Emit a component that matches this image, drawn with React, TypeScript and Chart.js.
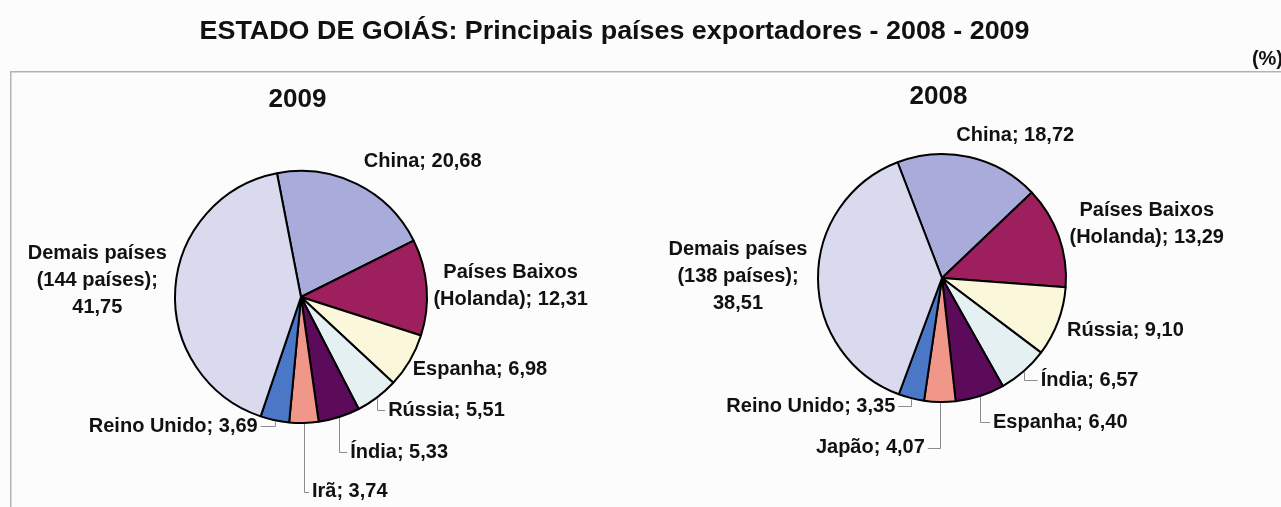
import React, { useEffect, useRef } from "react";
import { Chart, registerables } from "chart.js";

Chart.register(...registerables);

const W = 1281;
const H = 507;

const TITLE = "ESTADO DE GOIÁS: Principais países exportadores - 2008 - 2009";
const UNIT = "(%)";
const YEAR_LEFT = "2009";
const YEAR_RIGHT = "2008";

const countries2009 = [
  "China",
  "Países Baixos\n(Holanda)",
  "Espanha",
  "Rússia",
  "Índia",
  "Irã",
  "Reino Unido",
  "Demais países\n(144 países)",
];
const values2009 = [20.68, 12.31, 6.98, 5.51, 5.33, 3.74, 3.69, 41.75];

const countries2008 = [
  "China",
  "Países Baixos\n(Holanda)",
  "Rússia",
  "Índia",
  "Espanha",
  "Japão",
  "Reino Unido",
  "Demais países\n(138 países)",
];
const values2008 = [18.72, 13.29, 9.1, 6.57, 6.4, 4.07, 3.35, 38.51];

const sliceColors = [
  "#A9ACDB",
  "#9D1F5E",
  "#FAF7DA",
  "#E5F0F3",
  "#5C0B5A",
  "#F0978A",
  "#4A77C6",
  "#DADAEE",
];

type Align = "left" | "right" | "center";
type LabelSpec = { dx: number; dy: number; align: Align; leader?: boolean; valueBreak?: boolean };

// label placement relative to the slice's outer-edge mid point
const labels2009: LabelSpec[] = [
  { dx: 66, dy: -22, align: "center" },
  { dx: 84, dy: -1, align: "center" },
  { dx: 3, dy: 9, align: "left" },
  { dx: 11, dy: 13, align: "left", leader: true },
  { dx: 11, dy: 35, align: "left", leader: true },
  { dx: 8, dy: 69, align: "left", leader: true },
  { dx: -17, dy: 6, align: "right", leader: true },
  { dx: -78, dy: -8, align: "center", valueBreak: true },
];
const labels2008: LabelSpec[] = [
  { dx: 46, dy: -22, align: "center" },
  { dx: 88, dy: -12, align: "center" },
  { dx: 9, dy: 9, align: "left" },
  { dx: 17, dy: 9, align: "left", leader: true },
  { dx: 13, dy: 26, align: "left", leader: true },
  { dx: -15, dy: 46, align: "right", leader: true },
  { dx: -16, dy: 8, align: "right", leader: true },
  { dx: -80, dy: -2, align: "center", valueBreak: true },
];

const FONT = '"Liberation Sans", Arial, Helvetica, sans-serif';
const fmt = (v: number) => v.toFixed(2).replace(".", ",");

function labelLines(name: string, value: number, spec: LabelSpec): string[] {
  const lines = name.split("\n");
  const last = lines.length - 1;
  if (spec.valueBreak) {
    lines[last] = lines[last] + ";";
    lines.push(fmt(value));
  } else {
    lines[last] = lines[last] + "; " + fmt(value);
  }
  return lines;
}

function makeLabelPlugin(names: string[], values: number[], specs: LabelSpec[]) {
  return {
    id: "pieLabels",
    afterDatasetsDraw(chart: any) {
      const ctx: CanvasRenderingContext2D = chart.ctx;
      const meta = chart.getDatasetMeta(0);
      ctx.save();
      meta.data.forEach((arc: any, i: number) => {
        const p = arc.getProps(["x", "y", "startAngle", "endAngle", "outerRadius"], true);
        const mid = (p.startAngle + p.endAngle) / 2;
        const ex = p.x + p.outerRadius * Math.cos(mid);
        const ey = p.y + p.outerRadius * Math.sin(mid);
        const spec = specs[i];
        const ax = ex + spec.dx;
        const ay = ey + spec.dy;
        if (spec.leader) {
          const endX = spec.align === "right" ? ax + 3 : ax - 3;
          ctx.strokeStyle = "#8c8c8c";
          ctx.lineWidth = 1;
          ctx.beginPath();
          ctx.moveTo(Math.round(ex) + 0.5, ey + 1);
          ctx.lineTo(Math.round(ex) + 0.5, Math.round(ay) + 0.5);
          ctx.lineTo(endX, Math.round(ay) + 0.5);
          ctx.stroke();
        }
        const lines = labelLines(names[i], values[i], spec);
        ctx.font = `bold 20px ${FONT}`;
        ctx.fillStyle = "#111111";
        ctx.textAlign = spec.align;
        ctx.textBaseline = "middle";
        const lh = 27;
        const top = ay - ((lines.length - 1) * lh) / 2;
        lines.forEach((t, k) => ctx.fillText(t, ax, top + k * lh));
      });
      ctx.restore();
    },
  };
}

const decorPlugin = {
  id: "decor",
  beforeDraw(chart: any) {
    const ctx: CanvasRenderingContext2D = chart.ctx;
    ctx.save();
    // frame
    ctx.strokeStyle = "#b3b3b3";
    ctx.lineWidth = 1.5;
    ctx.beginPath();
    ctx.moveTo(W, 71.75);
    ctx.lineTo(10.75, 71.75);
    ctx.lineTo(10.75, H);
    ctx.stroke();
    // title (slightly wide face)
    ctx.fillStyle = "#111111";
    ctx.textBaseline = "alphabetic";
    ctx.textAlign = "center";
    ctx.font = `bold 25px ${FONT}`;
    ctx.save();
    ctx.translate(614.5, 38.5);
    ctx.scale(1.075, 1);
    ctx.fillText(TITLE, 0, 0);
    ctx.restore();
    // unit
    ctx.textAlign = "right";
    ctx.font = `bold 20px ${FONT}`;
    ctx.fillText(UNIT, W + 2, 65);
    // sub titles
    ctx.textAlign = "center";
    ctx.font = `bold 26px ${FONT}`;
    ctx.fillText(YEAR_LEFT, 297.5, 106.5);
    ctx.fillText(YEAR_RIGHT, 938.5, 104);
    ctx.restore();
  },
};

function makePie(
  canvas: HTMLCanvasElement,
  names: string[],
  values: number[],
  specs: LabelSpec[],
  cx: number,
  cy: number,
  r: number,
  rotation: number,
  extra: any[]
) {
  // position pie centre through the chart area
  const left = Math.max(0, 2 * cx - W);
  const right = Math.max(0, W - 2 * cx);
  const top = Math.max(0, 2 * cy - H);
  const bottom = Math.max(0, H - 2 * cy);
  return new Chart(canvas, {
    type: "pie",
    data: {
      labels: names,
      datasets: [
        {
          data: values,
          backgroundColor: sliceColors,
          borderColor: "#000000",
          borderWidth: 2,
          radius: r,
          rotation,
        } as any,
      ],
    },
    options: {
      responsive: false,
      animation: false,
      events: [],
      rotation,
      radius: r,
      layout: { padding: { left, right, top, bottom } },
      plugins: {
        legend: { display: false },
        tooltip: { enabled: false },
        title: { display: false },
      },
    } as any,
    plugins: [...extra, makeLabelPlugin(names, values, specs)],
  });
}

export default function App() {
  const leftRef = useRef<HTMLCanvasElement | null>(null);
  const rightRef = useRef<HTMLCanvasElement | null>(null);

  useEffect(() => {
    const a = makePie(leftRef.current!, countries2009, values2009, labels2009, 301, 297, 126, -11, [decorPlugin]);
    const b = makePie(rightRef.current!, countries2008, values2008, labels2008, 942, 278, 124, -21, []);
    return () => {
      a.destroy();
      b.destroy();
    };
  }, []);

  const cstyle: React.CSSProperties = { position: "absolute", left: 0, top: 0, width: W, height: H };
  return (
    <div
      style={{
        position: "absolute",
        left: 0,
        top: 0,
        width: W,
        height: H,
        background: "#fcfcfc",
        overflow: "hidden",
      }}
    >
      <canvas ref={leftRef} width={W} height={H} style={cstyle} />
      <canvas ref={rightRef} width={W} height={H} style={cstyle} />
    </div>
  );
}
